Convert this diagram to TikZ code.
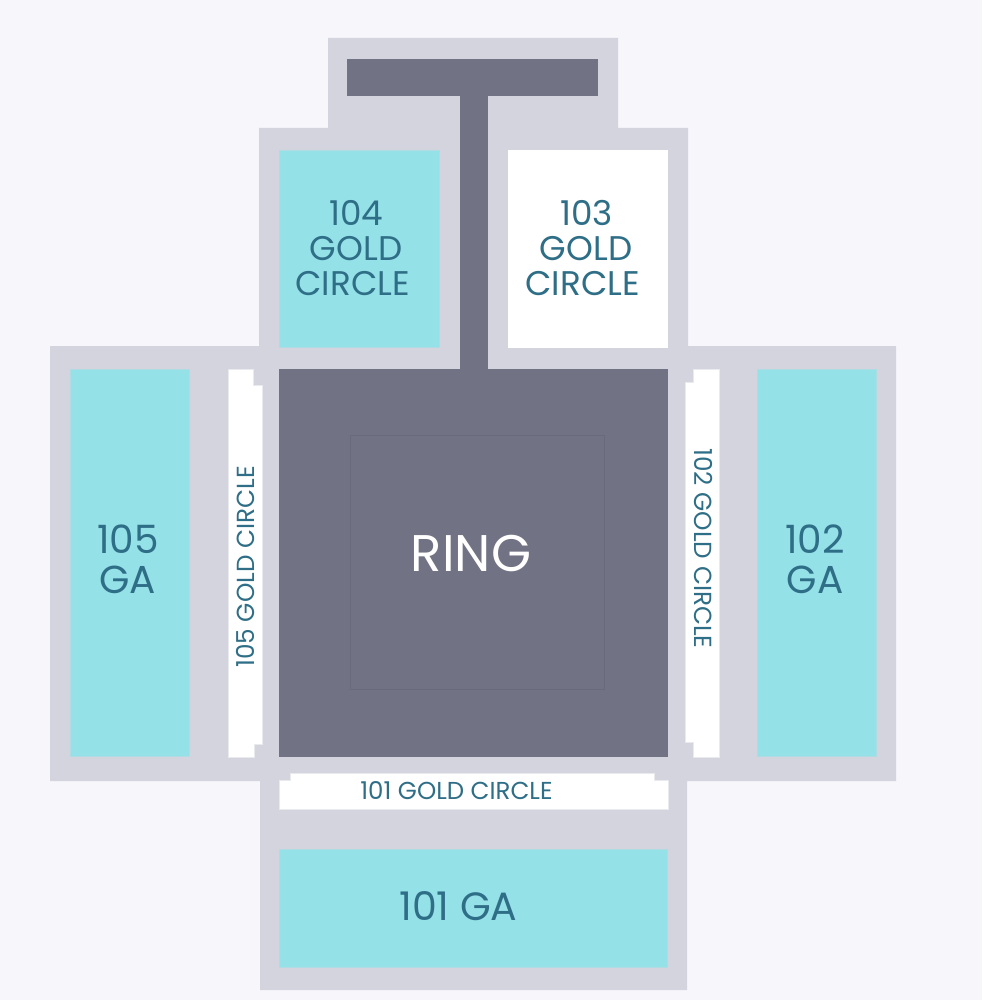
\documentclass[tikz,border=0pt]{standalone}
\usepackage{fontspec}
\setmainfont{Poppins}
\definecolor{bgc}{HTML}{F6F6FB}
\definecolor{greyc}{HTML}{D3D4DD}
\definecolor{darkc}{HTML}{717284}
\definecolor{tealc}{HTML}{95E1E8}
\definecolor{textc}{HTML}{2F6E87}
\tikzset{
 lab/.style={text=textc,align=center,inner sep=0pt},
 seat/.style={fill=tealc,draw=tealc!55!greyc,line width=.8pt},
 gold/.style={fill=white,draw=greyc!50!white,line width=.5pt},
}
\begin{document}
\begin{tikzpicture}[x=1pt,y=-1pt]
\useasboundingbox (0,0) rectangle (982,1000);
\fill[bgc] (0,0) rectangle (982,1000);
\fill[greyc] (328,38) -- (618,38) -- (618,128) -- (688,128) -- (688,346) -- (896,346) -- (896,781) -- (687,781) -- (687,990) -- (260,990) -- (260,781) -- (50,781) -- (50,346) -- (259,346) -- (259,128) -- (328,128) -- cycle;
\fill[darkc] (347,59) rectangle (598,96);
\fill[darkc] (460,96) rectangle (488,369);
\fill[darkc] (279,369) rectangle (668,757);
\draw[black!7!darkc,line width=.7pt] (350,435) rectangle (604,689);
\path[seat] (279.4,150.4) rectangle (439.6,347.6);
\path[fill=white] (508,150) rectangle (668,348);
\path[seat] (70.4,369.4) rectangle (189.6,756.6);
\path[seat] (757.4,369.4) rectangle (876.6,756.6);
\path[seat] (279.4,849.4) rectangle (667.6,967.6);
\path[gold] (228,369) -- (253,369) -- (253,385) -- (262,385) -- (262,744) -- (254,744) -- (254,757) -- (228,757) -- cycle;
\path[gold] (693,369) -- (719,369) -- (719,757) -- (693,757) -- (693,742) -- (685,742) -- (685,382) -- (693,382) -- cycle;
\path[gold] (279,780) -- (290,780) -- (290,773) -- (654,773) -- (654,780) -- (668,780) -- (668,809) -- (279,809) -- cycle;
\node[lab,font=\fontsize{51.5}{52}\selectfont,text=white] (ring) at (471,553.5) {RING};
\node[lab,font=\fontsize{34.2}{35}\selectfont] (s104) at (352.7,247.7) {\hspace*{7pt}104\\\hspace*{7pt}GOLD\\CIRCLE};
\node[lab,font=\fontsize{34.2}{35}\selectfont] (s103) at (582.7,247.7) {\hspace*{8pt}103\\\hspace*{7pt}GOLD\\CIRCLE};
\node[lab,font=\fontsize{39}{40}\selectfont] (s105) at (127.8,559) {105\\GA};
\node[lab,font=\fontsize{39}{40}\selectfont] (s102) at (815,559) {102\\GA};
\node[lab,font=\fontsize{39.5}{40}\selectfont] (s101) at (458.5,906) {101 GA};
\node[lab,font=\fontsize{24.7}{25}\selectfont,rotate=90] (g105) at (245.5,567) {105 GOLD CIRCLE};
\node[lab,font=\fontsize{24.7}{25}\selectfont,rotate=-90] (g102) at (703.5,548.5) {102 GOLD CIRCLE};
\node[lab,font=\fontsize{24.5}{25}\selectfont] (g101) at (456.5,791) {101 GOLD CIRCLE};
\end{tikzpicture}
\end{document}
